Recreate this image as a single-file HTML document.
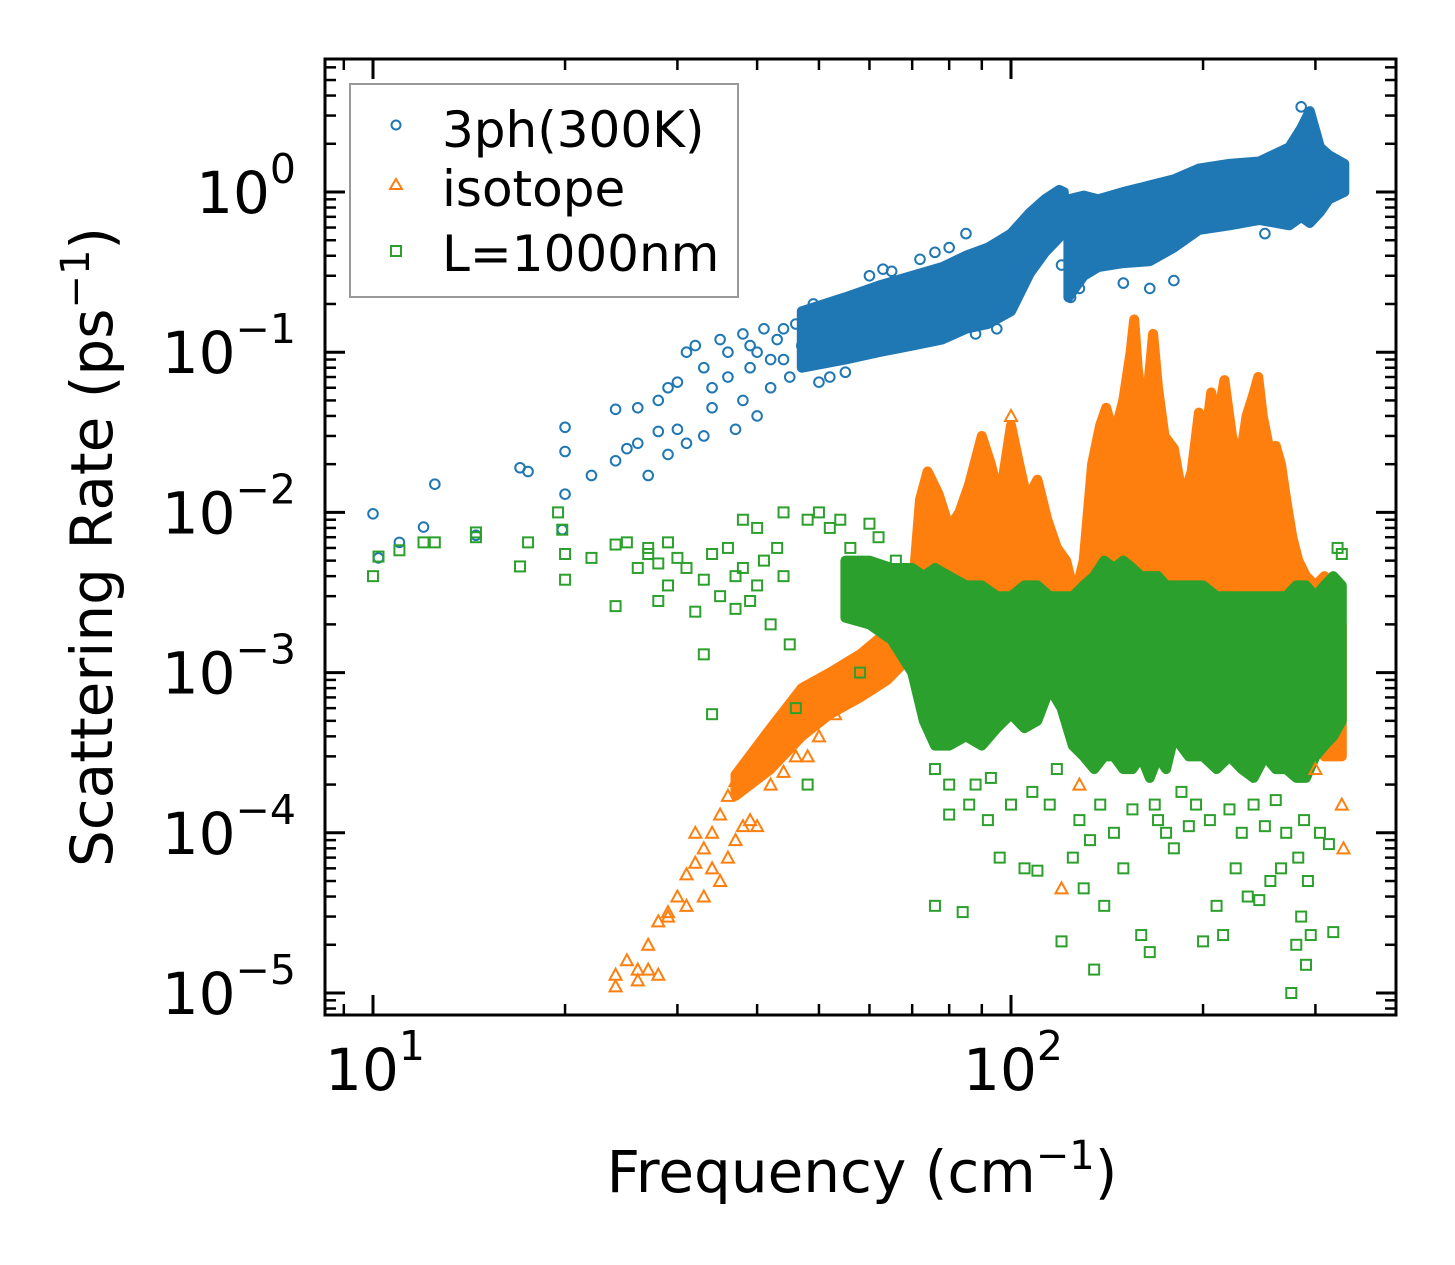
<!DOCTYPE html>
<html><head><meta charset="utf-8"><style>
html,body{margin:0;padding:0;background:#fff;}
svg{display:block;font-family:"DejaVu Sans","Liberation Sans",sans-serif;}
</style></head><body>
<svg id="chart" width="1455" height="1265" viewBox="0 0 1455 1265" xmlns="http://www.w3.org/2000/svg">
<rect width="1455" height="1265" fill="#fff"/>
<g id="bands"></g>
<g id="marks"></g>
<g id="axes"></g>
<g>
<rect x="350" y="84" width="388" height="213" fill="#fff" stroke="#999" stroke-width="2"/>
<circle cx="396" cy="125" r="4.5" fill="none" stroke="#1f77b4" stroke-width="2"/>
<text x="442" y="147" font-size="50">3ph(300K)</text>
<polygon points="396,179 402,189 390,189" fill="none" stroke="#ff7f0e" stroke-width="2"/>
<text x="442" y="206" font-size="50">isotope</text>
<rect x="391" y="246" width="10" height="10" fill="none" stroke="#2ca02c" stroke-width="2"/>
<text x="442" y="271" font-size="50">L=1000nm</text>
</g>
<text x="862" y="1192" font-size="58" text-anchor="middle">Frequency (cm<tspan dy="-23" font-size="40">−1</tspan><tspan dy="23">)</tspan></text>
<text transform="translate(112,547) rotate(-90)" font-size="58" text-anchor="middle">Scattering Rate (ps<tspan dy="-23" font-size="40">−1</tspan><tspan dy="23">)</tspan></text>
</svg>
<script>
// ---- data ----
const blueSparse=[[10,0.0098],[10.2,0.0052],[11,0.0065],[12,0.0081],[12.5,0.015],[14.5,0.0072],[17,0.019],[17.5,0.018],[19.8,0.0078],[20,0.013],[20,0.024],[20,0.034],[22,0.017],[24,0.021],[24,0.044],[25,0.025],[26,0.045],[26,0.027],[27,0.017],[28,0.032],[28,0.05],[29,0.06],[29,0.023],[30,0.033],[30,0.065],[31,0.027],[31,0.1],[32,0.11],[33,0.03],[33,0.08],[34,0.06],[34,0.045],[35,0.12],[36,0.1],[36,0.07],[37,0.033],[38,0.05],[38,0.13],[39,0.08],[39,0.11],[40,0.04],[40,0.1],[41,0.14],[42,0.06],[42,0.09],[43,0.12],[44,0.09],[44,0.14],[45,0.07],[46,0.15],[47,0.11],[48,0.085],[49,0.2],[50,0.065],[52,0.07],[55,0.075],[58,0.16],[60,0.3],[63,0.33],[65,0.32],[72,0.38],[76,0.42],[80,0.45],[85,0.55],[88,0.13],[95,0.14],[120,0.35],[124,0.22],[128,0.25],[150,0.27],[165,0.25],[180,0.28],[250,0.55],[285,3.4],[290,2.6],[310,1.4],[325,1.4],[330,1.2]];
const blueEnvF=[47,55,62,70,78,85,92,100,107,113,119,121];
const blueEnvHi=[0.18,0.22,0.26,0.3,0.34,0.4,0.45,0.55,0.74,0.9,1.03,1.0];
const blueEnvLo=[0.08,0.09,0.1,0.11,0.12,0.14,0.15,0.18,0.31,0.42,0.52,0.6];
const blueEnv2F=[123,130,137,150,165,180,197,220,245,273,285,294,305,315,333];
const blueEnv2Hi=[0.9,0.95,0.9,1.0,1.1,1.2,1.4,1.5,1.55,1.9,2.5,3.2,1.9,1.7,1.5];
const blueEnv2Lo=[0.22,0.3,0.34,0.36,0.37,0.45,0.58,0.62,0.67,0.62,0.7,0.64,0.75,0.9,1.0];

const orangeSparse=[[24,1.1e-5],[24,1.3e-5],[25,1.6e-5],[26,1.4e-5],[26,1.2e-5],[27,2e-5],[27,1.4e-5],[28,1.3e-5],[28,2.8e-5],[29,3.2e-5],[29,3e-5],[30,4e-5],[31,5.5e-5],[31,3.5e-5],[32,6.5e-5],[32,1e-4],[33,8e-5],[33,4e-5],[34,1e-4],[34,6e-5],[35,1.3e-4],[35,5e-5],[36,1.7e-4],[36,7e-5],[37,2.1e-4],[37,9e-5],[38,1.1e-4],[40,1.1e-4],[39,1.2e-4],[42,2e-4],[44,2.4e-4],[46,3e-4],[48,3e-4],[50,4e-4],[53,5.5e-4],[56,7e-4],[60,1e-3],[64,1.2e-3],[120,4.5e-5],[128,2e-4],[300,2.5e-4],[330,1.5e-4],[332,8e-5],[100,4e-2]];
const orangeWedgeF=[37,42,47,52,58,64,70];
const orangeWedgeHi=[2.3e-4,4.5e-4,8e-4,1e-3,1.3e-3,1.8e-3,2.5e-3];
const orangeWedgeLo=[1.7e-4,2.5e-4,4e-4,5.5e-4,7e-4,9e-4,1.3e-3];
const orangeF=[70,72,74,77,80,83,86,90,93,96,100,103,106,110,114,118,122,126,130,134,138,141,145,150,154,156,158,161,164,167,170,174,180,186,192,197,202,206,210,216,222,228,234,240,244,248,254,260,265,270,276,282,290,300,310,320,330];
const orangeHi=[3e-3,1.2e-2,1.8e-2,1.3e-2,8e-3,1e-2,1.5e-2,3e-2,2e-2,1.2e-2,3.5e-2,2e-2,1.2e-2,1.6e-2,9e-3,6e-3,5e-3,3e-3,5e-3,2e-2,3.5e-2,4.5e-2,3e-2,5e-2,1e-1,1.6e-1,8e-2,4e-2,6e-2,1.3e-1,6e-2,3e-2,2.5e-2,1.2e-2,1.8e-2,4.2e-2,3e-2,5.6e-2,3.5e-2,6.7e-2,3e-2,2e-2,4e-2,5.5e-2,7e-2,4e-2,2.5e-2,2.6e-2,2e-2,1.2e-2,7e-3,5e-3,4e-3,3.5e-3,4e-3,3e-3,2e-3];
const orangeLoF=[70,90,120,150,200,250,290,310,330];
const orangeLo=[2e-3,2e-3,1.5e-3,1.5e-3,1.5e-3,1.5e-3,5e-4,3e-4,3e-4];

const greenSparse=[[10,4e-3],[10.2,5.3e-3],[11,5.8e-3],[12,6.5e-3],[12.5,6.5e-3],[14.5,7.5e-3],[14.5,7e-3],[17,4.6e-3],[17.5,6.5e-3],[19.5,1e-2],[19.8,7.8e-3],[20,5.5e-3],[20,3.8e-3],[22,5.2e-3],[24,6.3e-3],[24,2.6e-3],[25,6.5e-3],[26,4.5e-3],[27,5.5e-3],[27,6e-3],[28,2.8e-3],[28,4.8e-3],[29,6.5e-3],[29,3.5e-3],[30,5.2e-3],[31,4.5e-3],[32,2.4e-3],[33,3.8e-3],[33,1.3e-3],[34,5.5e-3],[34,5.5e-4],[35,3e-3],[36,6e-3],[37,4e-3],[37,2.5e-3],[38,9e-3],[38,4.5e-3],[39,2.8e-3],[40,8e-3],[40,3.5e-3],[41,5e-3],[42,2e-3],[43,6e-3],[44,1e-2],[44,4e-3],[45,1.5e-3],[46,6e-4],[48,9e-3],[48,2e-4],[50,1e-2],[52,8e-3],[54,9e-3],[56,6e-3],[58,1e-3],[60,8.5e-3],[62,7e-3],[66,5e-3],[76,3.5e-5],[76,2.5e-4],[80,1.3e-4],[80,2e-4],[84,3.2e-5],[86,1.5e-4],[88,2e-4],[92,1.2e-4],[93,2.2e-4],[96,7e-5],[100,1.5e-4],[105,6e-5],[108,1.8e-4],[110,5.8e-5],[115,1.5e-4],[118,2.5e-4],[120,2.1e-5],[125,7e-5],[128,1.2e-4],[130,4.5e-5],[133,9e-5],[135,1.4e-5],[138,1.5e-4],[140,3.5e-5],[145,1e-4],[150,6e-5],[155,1.4e-4],[160,2.3e-5],[165,1.8e-5],[168,1.5e-4],[170,1.2e-4],[175,1e-4],[180,8e-5],[185,1.8e-4],[190,1.1e-4],[195,1.5e-4],[200,2.1e-5],[205,1.2e-4],[210,3.5e-5],[215,2.3e-5],[220,1.4e-4],[225,6e-5],[230,1e-4],[235,4e-5],[240,1.5e-4],[245,3.8e-5],[250,1.1e-4],[255,5e-5],[260,1.6e-4],[265,6e-5],[270,1e-4],[275,1e-5],[280,2e-5],[282,7e-5],[285,3e-5],[288,1.2e-4],[290,1.5e-5],[292,5e-5],[295,2.3e-5],[305,1e-4],[315,8.5e-5],[320,2.4e-5],[325,6e-3],[330,5.5e-3]];
const greenF=[55,60,65,70,73,76,80,85,90,95,100,105,110,115,120,125,130,135,140,145,150,155,160,165,170,175,180,190,200,210,220,230,240,250,260,270,280,290,300,310,320,330];
const greenHi=[5e-3,5e-3,4.5e-3,4.5e-3,4e-3,4.5e-3,4e-3,3.5e-3,3.5e-3,3e-3,3e-3,3.5e-3,3.5e-3,3e-3,3e-3,3e-3,3.5e-3,4e-3,5e-3,4.5e-3,5e-3,4.5e-3,4e-3,4e-3,4e-3,3.5e-3,3.5e-3,3.5e-3,3.5e-3,3e-3,3e-3,3e-3,3e-3,3e-3,3e-3,3e-3,3.5e-3,3.5e-3,3e-3,3.5e-3,4e-3,3.5e-3];
const greenLo=[2.2e-3,2e-3,1.6e-3,1e-3,5e-4,3.5e-4,3.5e-4,4e-4,3.5e-4,4.5e-4,5.5e-4,4.5e-4,5e-4,8e-4,6e-4,3.5e-4,3e-4,2.5e-4,3e-4,3e-4,2.5e-4,2.5e-4,3e-4,2.2e-4,3e-4,2.5e-4,4e-4,3e-4,3e-4,2.5e-4,3e-4,2.5e-4,2.2e-4,3e-4,2.5e-4,2.5e-4,2.2e-4,2.2e-4,3e-4,3.5e-4,4e-4,5e-4];

// ---- axes functions ----
const X0=373, DEC_X=638, Y0=192, DEC_Y=160.2;
const L=325, R=1396, T=59, B=1015;
function X(f){return X0+DEC_X*(Math.log10(f)-1);}
function Y(v){return Y0-DEC_Y*Math.log10(v);}
const NS="http://www.w3.org/2000/svg";
function mk(tag,parent){const e=document.createElementNS(NS,tag);parent.appendChild(e);return e;}
const bands=document.getElementById('bands'), marks=document.getElementById('marks'), axes=document.getElementById('axes');
const COL={blue:'#1f77b4',orange:'#ff7f0e',green:'#2ca02c'};

function band(F,hi,Flo,lo,color,name){
  const pts=[];
  for(let i=0;i<F.length;i++)pts.push(X(F[i]).toFixed(1)+','+Y(hi[i]).toFixed(1));
  for(let i=Flo.length-1;i>=0;i--)pts.push(X(Flo[i]).toFixed(1)+','+Y(lo[i]).toFixed(1));
  const p=mk('polygon',bands);
  p.setAttribute('points',pts.join(' '));
  p.setAttribute('fill',color);p.setAttribute('stroke',color);p.setAttribute('stroke-width','10');p.setAttribute('stroke-linejoin','round');
  
  
}
function circle(f,v){
  const c=mk('circle',marks);c.setAttribute('cx',X(f));c.setAttribute('cy',Y(v));c.setAttribute('r',4.8);
  c.setAttribute('fill','none');c.setAttribute('stroke',COL.blue);c.setAttribute('stroke-width',2);
  
  
}
function tri(f,v){
  const x=X(f),y=Y(v);const p=mk('polygon',marks);
  p.setAttribute('points',`${x},${y-6} ${x+6},${y+5} ${x-6},${y+5}`);
  p.setAttribute('fill','none');p.setAttribute('stroke',COL.orange);p.setAttribute('stroke-width',2);
  
  
}
function sq(f,v){
  const x=X(f),y=Y(v);const r=mk('rect',marks);
  r.setAttribute('x',x-5);r.setAttribute('y',y-5);r.setAttribute('width',10);r.setAttribute('height',10);
  r.setAttribute('fill','none');r.setAttribute('stroke',COL.green);r.setAttribute('stroke-width',2);
  
  
}
band(blueEnvF,blueEnvHi,blueEnvF,blueEnvLo,COL.blue,'band-3ph-low');
band(blueEnv2F,blueEnv2Hi,blueEnv2F,blueEnv2Lo,COL.blue,'band-3ph-high');
blueSparse.forEach(d=>circle(d[0],d[1]));
band(orangeWedgeF,orangeWedgeHi,orangeWedgeF,orangeWedgeLo,COL.orange,'band-isotope-rise');
band(orangeF,orangeHi,orangeLoF,orangeLo,COL.orange,'band-isotope-main');
orangeSparse.forEach(d=>tri(d[0],d[1]));
band(greenF,greenHi,greenF,greenLo,COL.green,'band-boundary');
greenSparse.forEach(d=>sq(d[0],d[1]));

// ---- axes ----
const frame=mk('rect',axes);
frame.setAttribute('x',L);frame.setAttribute('y',T);frame.setAttribute('width',R-L);frame.setAttribute('height',B-T);
frame.setAttribute('fill','none');frame.setAttribute('stroke','#000');frame.setAttribute('stroke-width',3);


function line(x1,y1,x2,y2,w){const l=mk('line',axes);l.setAttribute('x1',x1);l.setAttribute('y1',y1);l.setAttribute('x2',x2);l.setAttribute('y2',y2);l.setAttribute('stroke','#000');l.setAttribute('stroke-width',w);
  
  
}
const xTickExp=[1,2];
const yTickExp=[0,-1,-2,-3,-4,-5];
for(let k=0;k<=2;k++){for(let m=1;m<10;m++){const f=m*Math.pow(10,k);const x=X(f);if(x<L+1||x>R-1)continue;
  const len=m===1?20:11, w=m===1?3:2.5;line(x,B,x,B-len,w);line(x,T,x,T+len,w);}}
for(let k=-6;k<=1;k++){for(let m=1;m<10;m++){const v=m*Math.pow(10,k);const y=Y(v);if(y<T+1||y>B-1)continue;
  const len=m===1?20:11, w=m===1?3:2.5;line(L,y,L+len,y,w);line(R,y,R-len,y,w);}}
xTickExp.forEach(e=>{const t=mk('text',axes);t.setAttribute('x',X(Math.pow(10,e))+2);t.setAttribute('y',1090);t.setAttribute('font-size',58);t.setAttribute('text-anchor','middle');
  t.innerHTML='10<tspan dy="-30" font-size="41">'+e+'</tspan>';
  
  
});
yTickExp.forEach(e=>{const t=mk('text',axes);t.setAttribute('x',296);t.setAttribute('y',Y(Math.pow(10,e))+21);t.setAttribute('font-size',58);t.setAttribute('text-anchor','end');
  t.innerHTML='10<tspan dy="-30" font-size="41">'+(e<0?'−'+(-e):e)+'</tspan>';
  
  
});
</script>
</body></html>
